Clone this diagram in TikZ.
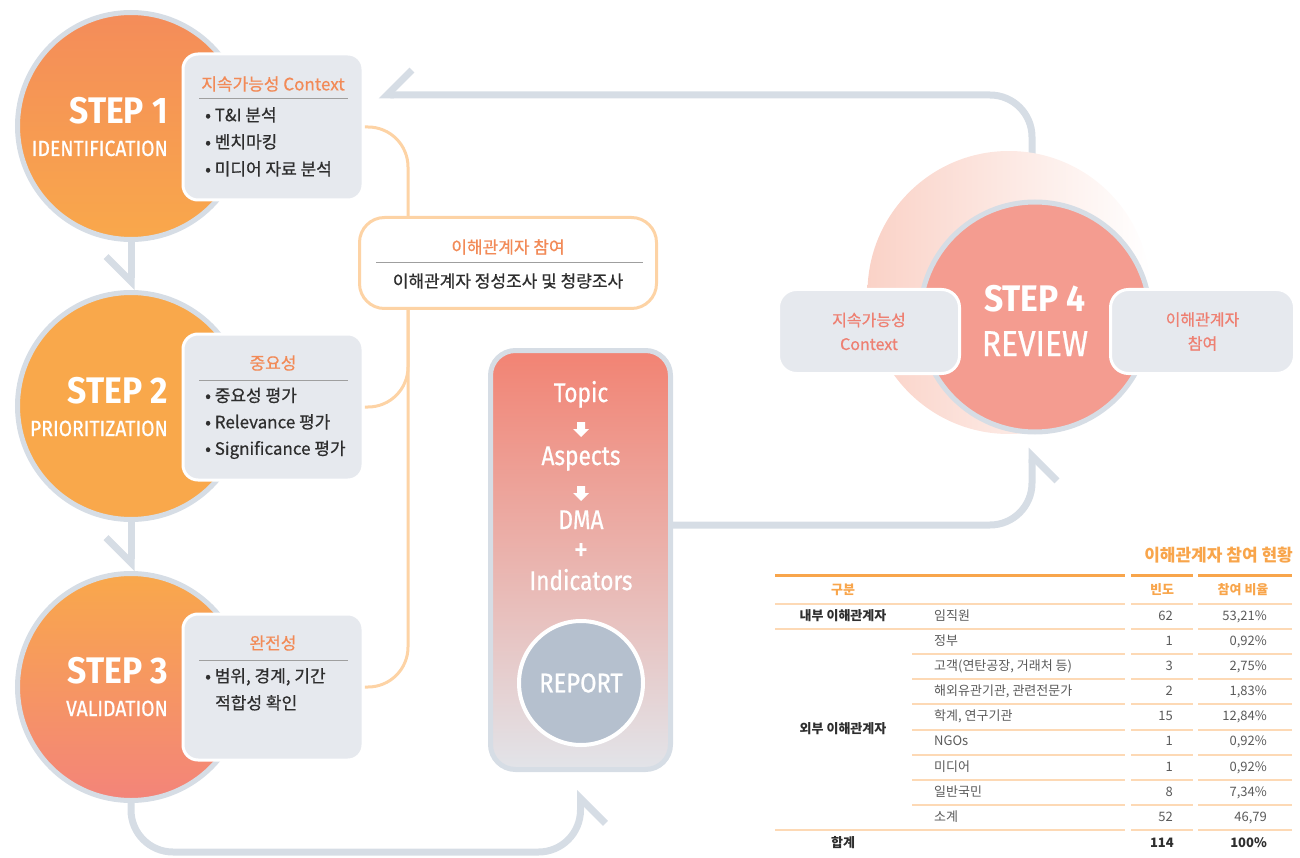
\documentclass[tikz,border=0pt]{standalone}
\usepackage{fontspec}
\setmainfont{Noto Sans CJK KR}
\newfontfamily\krmid{Noto Sans CJK KR}[FakeBold=0.6]
\newfontfamily\dinfont{Fira Sans}[FakeStretch=0.91]
\newfontfamily\dinmid{Fira Sans}[FakeStretch=0.88, FakeBold=0.7]
\newfontfamily\flowfont{Fira Sans}[FakeStretch=0.84, FakeBold=0.6]
\usetikzlibrary{calc, positioning, arrows.meta, backgrounds}

\definecolor{ringgray}{HTML}{D6DDE5}
\definecolor{boxgray}{HTML}{E6E9EE}
\definecolor{orangeA}{HTML}{F48C5A}
\definecolor{orangeB}{HTML}{F9A84B}
\definecolor{pinkC}{HTML}{F3847A}
\definecolor{linkorange}{HTML}{FDD3A5}
\definecolor{headorange}{HTML}{F28A57}
\definecolor{salmon}{HTML}{F49C90}
\definecolor{salmontext}{HTML}{EE8072}
\definecolor{palepink}{HTML}{FAD2C7}
\definecolor{reporttop}{HTML}{F28373}
\definecolor{reportbot}{HTML}{E2E4E9}
\definecolor{reportgray}{HTML}{B5C0CE}
\definecolor{taborange}{HTML}{F8A54B}
\definecolor{tabline}{HTML}{FDD9B5}
\definecolor{textdark}{HTML}{2E2E2E}
\definecolor{cellgray}{HTML}{5A5A5A}

\tikzset{
  stepcirc/.style={circle, minimum size=227pt, draw=ringgray, line width=5pt},
  infobox/.style={rectangle, rounded corners=15pt, fill=boxgray, draw=white, line width=3pt, minimum width=180pt, minimum height=146pt},
  sidebox/.style={rectangle, rounded corners=18pt, fill=boxgray, draw=white, line width=3pt, minimum height=84pt, align=center, text=salmontext, font=\krmid\fontsize{16}{24}\selectfont},
  flow/.style={draw=ringgray, line width=7pt, rounded corners=42pt, -{Straight Barb[harpoon, swap, sharp, length=25pt, width=50pt]}},
  link/.style={draw=linkorange, line width=3pt, rounded corners=40pt},
  stepno/.style={anchor=base east, inner sep=0pt, text=white, font=\dinfont\bfseries\fontsize{37}{40}\selectfont},
  stepname/.style={anchor=base east, inner sep=0pt, text=white, font=\dinmid\fontsize{22}{24}\selectfont},
  boxhead/.style={inner sep=0pt, text=headorange, font=\krmid\fontsize{17}{19}\selectfont},
  item/.style={anchor=west, inner sep=0pt, text height=12pt, text depth=3.5pt, text=textdark, font=\krmid\fontsize{17}{19}\selectfont},
  rulegray/.style={draw=gray!75, line width=1pt},
  flowtext/.style={anchor=base, inner sep=0pt, text=white, font=\flowfont\fontsize{27}{30}\selectfont},
  cell/.style={inner sep=0pt, text height=9.5pt, text depth=2.5pt, text=cellgray, font=\fontsize{13}{15}\selectfont},
  cellbold/.style={cell, text=textdark, font=\bfseries\fontsize{13}{15}\selectfont},
  tabhead/.style={cell, text=taborange, font=\bfseries\fontsize{13}{15}\selectfont}
}

\begin{document}
\begin{tikzpicture}[x=1pt, y=-1pt]
\useasboundingbox (0,0) rectangle (1300,858);

% steps 1-3
\node[stepcirc, top color=orangeA, bottom color=orangeB] (step1) at (131,126) {};
\node[stepcirc, fill=orangeB] (step2) at (131,406) {};
\node[stepcirc, top color=orangeB, bottom color=pinkC] (step3) at (131,687) {};

\node[stepno] (s1no) at (168,124) {STEP 1};
\node[stepname] (s1name) at (168,156) {IDENTIFICATION};
\node[stepno] (s2no) at (168,403) {STEP 2};
\node[stepname] (s2name) at (168,436) {PRIORITIZATION};
\node[stepno] (s3no) at (168,683) {STEP 3};
\node[stepname] (s3name) at (168,716) {VALIDATION};

\node[infobox] (step1box) at (273,127) {};
\node[infobox] (step2box) at (273,407) {};
\node[infobox] (step3box) at (273,687) {};

\node[boxhead] (h1) at (273,84) {지속가능성 Context};
\draw[rulegray] (199,99) -- (348,99);
\foreach \txt [count=\i] in {T\&I 분석, 벤치마킹, 미디어 자료 분석}
  \node[item] (i1\i) at (205,90+27*\i) {• \txt};

\node[boxhead] (h2) at (273,363) {중요성};
\draw[rulegray] (199,380) -- (348,380);
\foreach \txt [count=\i] in {중요성 평가, Relevance 평가, Significance 평가}
  \node[item] (i2\i) at (205,371+26.5*\i) {• \txt};

\node[boxhead] (h3) at (273,643) {완전성};
\draw[rulegray] (199,660) -- (348,660);
\node[item] (i31) at (205,678) {• 범위, 경계, 기간};
\node[item] (i32) at (215,705) {적합성 확인};

% stakeholder box
\node[rectangle, rounded corners=25pt, draw=linkorange, line width=3pt, fill=white, minimum width=297pt, minimum height=91pt] (stake) at (508,263) {};
\node[boxhead] (stakehead) at (508,247) {이해관계자 참여};
\draw[rulegray] (376,263) -- (643,263);
\node[boxhead, text=textdark] (stakesub) at (508,281) {이해관계자 정성조사 및 청량조사};

% report
\node[rectangle, rounded corners=25pt, draw=ringgray, line width=5pt, top color=reporttop, bottom color=reportbot, minimum width=180pt, minimum height=419pt] (report) at (580.5,560) {};
\node[flowtext] (topic) at (581,402) {Topic};
\node[flowtext] (aspects) at (581,465) {Aspects};
\node[flowtext] (dma) at (581,529) {DMA};
\node[flowtext, anchor=center, font=\flowfont\fontsize{34}{34}\selectfont] (plus) at (581,552) {+};
\node[flowtext] (indic) at (581,590) {Indicators};
\foreach \y in {429,493}
  \fill[white] (581,\y) +(-4,-7) -- +(4,-7) -- +(4,0) -- +(8,0) -- +(0,8) -- +(-8,0) -- +(-4,0) -- cycle;
\node[circle, fill=reportgray, draw=white, line width=4pt, minimum size=124pt, text=white, font=\dinmid\fontsize{27}{30}\selectfont] (reportdisc) at (581,683) {REPORT};

% step 4
\shade[left color=palepink, right color=white] (1009,292.5) circle (141.5pt);
\node[stepcirc, minimum size=230pt, fill=salmon] (step4) at (1035,317) {};
\node[stepno, anchor=base] (s4no) at (1035,312) {STEP 4};
\node[stepname, anchor=base, font=\dinmid\fontsize{36}{40}\selectfont] (s4name) at (1035,356) {REVIEW};
\node[sidebox, minimum width=181pt] (sideleft) at (869,331.5) {지속가능성\\Context};
\node[sidebox, minimum width=184pt] (sideright) at (1202.5,331.5) {이해관계자\\참여};

% connectors
\begin{scope}[on background layer]
\draw[flow] (step1.south) -- (step2.north);
\draw[flow] (step2.south) -- (step3.north);
\draw[flow] (step3.south) |- ($(report.south)+(0,80)$) -- ($(report.south)+(0,18)$);
\draw[flow] ([yshift=35pt]report.east) -| ($(step4.south)+(-3,13)$);
\draw[flow] ($(step4.north)+(-3,0)$) |- ($(step1box.east)+(14,-32)$);
\draw[link] (step1box.east) -| ([xshift=50pt]stake.north west);
\draw[link] ([xshift=50pt]stake.south west) |- (step2box.east);
\draw[link] ([xshift=50pt]stake.south west) |- (step3box.east);
\end{scope}

% table
\node[anchor=east, inner sep=0pt, text=taborange, font=\bfseries\fontsize{17}{19}\selectfont] (tabtitle) at (1293,555) {이해관계자 참여 현황};
\foreach \a/\b in {775/1125, 1131/1193, 1198/1292}
  \draw[taborange, line width=3pt] (\a,575) -- (\b,575);
\foreach \y in {604, 629, 830}
  \foreach \a/\b in {775/1125, 1131/1193, 1198/1292}
    \draw[tabline, line width=1.2pt] (\a,\y) -- (\b,\y);
\foreach \y in {654, 679, 704, 730, 755, 780, 805}
  \foreach \a/\b in {912/1125, 1131/1193, 1198/1292}
    \draw[tabline, line width=1.2pt] (\a,\y) -- (\b,\y);
\node[tabhead] (hdkind) at (843,591) {구분};
\node[tabhead] (hdcnt) at (1162,591) {빈도};
\node[tabhead] (hdpct) at (1243,591) {참여 비율};
\foreach \y/\who/\cnt/\pct in {617/임직원/62/{53,21\%}, 642/정부/1/{0,92\%}, 667/{고객(연탄공장, 거래처 등)}/3/{2,75\%}, 692/{해외유관기관, 관련전문가}/2/{1,83\%}, 717/{학계, 연구기관}/15/{12,84\%}, 742/NGOs/1/{0,92\%}, 768/미디어/1/{0,92\%}, 793/일반국민/8/{7,34\%}, 818/소계/52/{46,79}}
{
  \node[cell, anchor=west] (who\y) at (934,\y) {\who};
  \node[cell, anchor=east] (cnt\y) at (1173,\y) {\cnt};
  \node[cell, anchor=east] (pct\y) at (1267,\y) {\pct};
}
\node[cellbold] (inner) at (843,617) {내부 이해관계자};
\node[cellbold] (outer) at (843,730) {외부 이해관계자};
\node[cellbold] (total) at (843,844) {합계};
\node[cellbold, anchor=east] (totcnt) at (1174,844) {114};
\node[cellbold, anchor=east] (totpct) at (1267,844) {100\%};
\end{tikzpicture}
\end{document}
